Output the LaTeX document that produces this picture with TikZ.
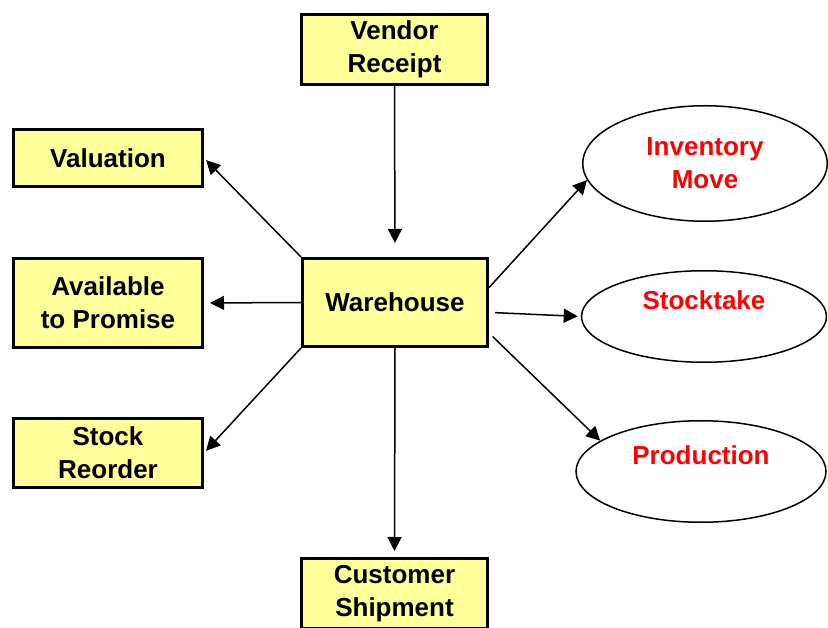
\documentclass[tikz,border=0pt]{standalone}
\usepackage{fontspec}
\setmainfont{Liberation Sans}
\usetikzlibrary{shapes.geometric, arrows.meta}
\definecolor{boxyellow}{RGB}{255,255,153}

\begin{document}
\begin{tikzpicture}[x=1pt, y=-1pt,
    every node/.style = {font=\fontsize{26}{33}\selectfont\bfseries, align=center, inner sep=0pt},
    box/.style = {draw, line width=3pt, fill=boxyellow, minimum width=186pt},
    oval/.style = {draw, ellipse, line width=1.5pt, text=red},
    flow/.style = {-{Triangle[length=14pt, width=14pt]}, line width=1.5pt}]
\useasboundingbox (0,0) rectangle (828,628);

% boxes
\node[box, minimum height=70pt] (VR) at (394.5,49.5) {Vendor\\Receipt};
\node[box, minimum width=185pt, minimum height=88pt] (WH) at (395,302.5) {Warehouse};
\node[box, minimum width=189pt, minimum height=57pt] (VA) at (108,158) {Valuation};
\node[box, minimum width=189pt, minimum height=89pt] (AP) at (108,303) {Available\\to Promise};
\node[box, minimum width=189pt, minimum height=69pt] (SR) at (108,453) {Stock\\Reorder};
\node[box, minimum height=70pt] (CS) at (394.5,593.5) {Customer\\Shipment};

% ovals
\node[oval, minimum width=244.5pt, minimum height=115.5pt] (IM) at (705,163.5) {Inventory\\Move};
\node[oval, minimum width=245pt, minimum height=91.5pt] (ST) at (704,316.5) {Stocktake\\\mbox{}};
\node[oval, minimum width=250pt, minimum height=101.5pt] (PR) at (701,471.5) {Production\\\mbox{}};

% arrows
\draw[flow, shorten >=14pt] (VR.south) -- (WH.north);
\draw[flow, shorten >=3pt] (WH.north west) -- (VA.east);
\draw[flow, shorten >=6pt] (WH.west) -- (AP.east);
\draw[flow, shorten >=3pt] (WH.south west) -- (SR.east);
\draw[flow, shorten >=6pt] (WH.south) -- (CS.north);
\draw[flow] (WH.9) -- (IM.188);
\draw[flow, shorten <=6pt, shorten >=3pt] (WH.-6) -- (ST.west);
\draw[flow, shorten <=5pt] (WH.-18) -- (PR.163);

\end{tikzpicture}
\end{document}
